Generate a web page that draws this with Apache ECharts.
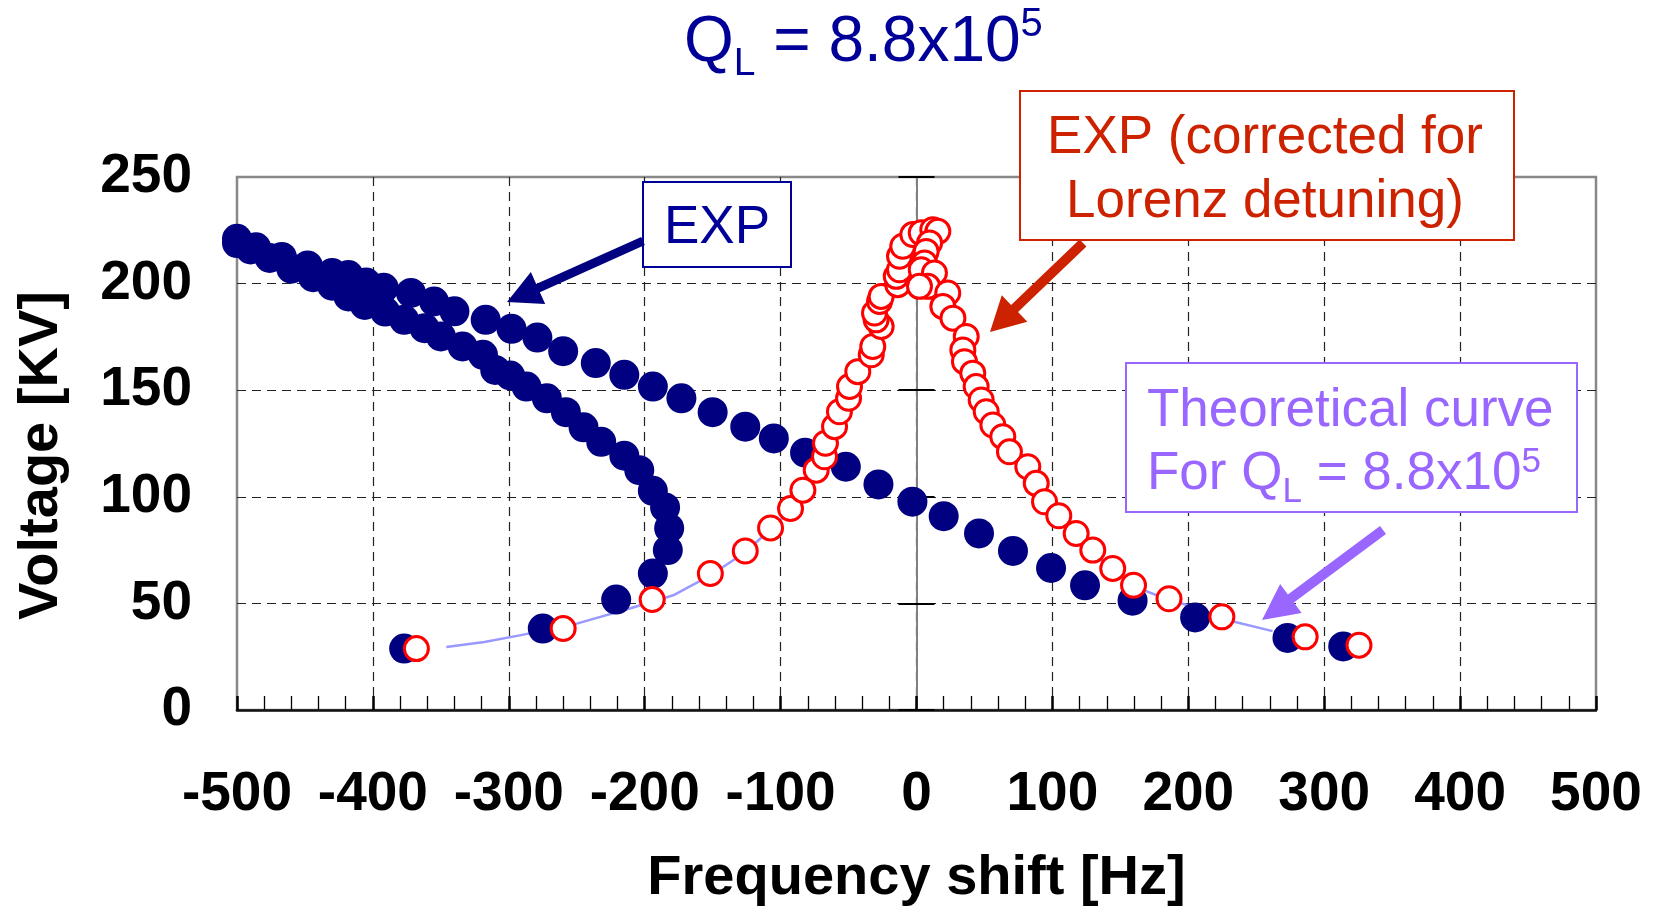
<!DOCTYPE html>
<html><head><meta charset="utf-8">
<script src="https://cdn.jsdelivr.net/npm/echarts@6/dist/echarts.min.js"></script>
<style>html,body{margin:0;padding:0;background:#fff}#c{width:1655px;height:912px}</style>
</head><body><div id="c"></div>
<script>
// ---- data (frequency shift [Hz], voltage [kV]) ----
const expUpperBranch = [
  [-500,221],[-486,217],[-467,212.5],[-448,208.5],[-430,205],[-418,204],[-405,200.5],[-392,198],
  [-372,195.6],[-355,191.6],[-340,187],[-317,183],[-298,178.8],[-279,174.7],[-260,168.3],[-236,162.7],
  [-215,157.2],[-194,151.7],[-173,146.2],[-150,139.7],[-126,132.9],[-105,127.4],[-82,120.7],[-52,114.1],
  [-28,105.8],[-3,97.7],[20,90.9],[46,82.8],[71,74.6],[99,66.6],[124,58.5],[159,51.3],[205,43.4],
  [273,33.8],[314,29.8]
];
const expLowerBranch = [
  [-500,219],[-490,216],[-476,212],[-460,207],[-444,203],[-430,199],[-418,194],[-406,190],
  [-391,186.9],[-377,183],[-362,179.1],[-350,175.2],[-334,170.5],[-319,166.6],[-310,159.5],[-299,156.9],
  [-287,151.7],[-272,146.2],[-258,139.7],[-245,132.6],[-232,125.8],[-215,119.3],[-204,112.5],[-194,102.8],
  [-185,95],[-182,85.3],[-183,75],[-194,64],[-221,51.8],[-275,38.2],[-377,28.8]
];
const expCorrected = [
  [-368,28.8],[-260,38.2],[-194.5,51.8],[-151.7,64],[-126,74.6],[-107.4,85.4],[-92.7,94.5],[-83.6,103.1],
  [-73.8,112.5],[-67.7,118.8],[-67,125.1],[-60.3,132.9],[-56.7,139.9],[-50,146.2],[-49.3,151.7],[-43.2,158.7],
  [-33.3,166.6],[-32.2,170.5],[-26,179.9],[-29.7,183],[-30.9,186.2],[-27.2,191.6],[-26,194],[-13.8,199.5],
  [-14.9,203.4],[-12.5,206.5],[-12.5,212.8],[-10.1,217.5],[-2.7,223],[3.5,223.8],[12,225.3],[15.7,224.5],
  [9.6,219.1],[7.1,215.1],[5.9,209.7],[3.5,206.5],[13.2,205],[8.3,198.7],[2.2,198.7],[23,195.6],
  [19.4,189.3],[26.8,183.8],[36.6,175.2],[34.1,168.9],[35.3,163.4],[41.4,158],[43.9,151.7],[47.6,145.4],
  [51.3,139.9],[56.2,133.7],[63.5,128.2],[68.4,121.1],[81.9,114.1],[88.1,106.3],[94.2,97.7],[104.7,91.1],
  [117.5,82.8],[129.7,75],[144.4,66.4],[159.7,58.5],[185.8,52.2],[224.7,43.7],[286,34.3],[325.6,30.4]
];
const theoryCurve = [
  [-346,29.5],[-318,31.9],[-292,35],[-250,40.5],[-211,47.6],[-179,53.8],[-152,63],[-126,74],[-107,85],
  [-92,94],[-80,104],[-70,115],[-60,130],[-50,147],[-40,163],[-30,180],[-20,200],[-10,216],[0,223],
  [10,216],[20,200],[30,180],[40,160],[50,143],[60,128],[75,115],[90,102],[105,90],[120,80],[140,68],
  [160,58],[180,53],[200,49],[230,42],[262,37]
];
const xRange = [-500, 500];
const yRange = [0, 250];
const titleParts = [['Q',64,0],['L',39,14],[' = 8.8x10',64,0],['5',40,-25]];
const expLabel = 'EXP';
const correctedLabel = ['EXP (corrected for', 'Lorenz detuning)'];
const theoryLine1 = 'Theoretical curve';
const theoryParts = [['For Q',53,0],['L',35,13.4],[' = 8.8x10',53,0],['5',35,-17]];

// ---- rendering ----
const FONT = '"Liberation Sans", Arial, Helvetica, sans-serif';
const NAVY = '#000099', RED_T = '#CC2200', PURPLE = '#9966FF';
const K = 0.28;
const mctx = document.createElement('canvas').getContext('2d');
function tw(text, size, weight) { mctx.font = (weight || 'normal') + ' ' + size + 'px ' + FONT; return mctx.measureText(text).width; }
function txt(text, x, baseline, size, color, align, weight) {
  return { type: 'text', z: 101, style: { text: text, x: x, y: baseline - K * size,
    font: (weight || 'normal') + ' ' + size + 'px ' + FONT, fill: color,
    textAlign: align || 'left', textVerticalAlign: 'middle', verticalAlign: 'middle' } };
}
function row(parts, x, baseline, color) {
  let cx = x; const out = [];
  parts.forEach(p => { out.push(txt(p[0], cx, baseline + p[2], p[1], color, 'left')); cx += tw(p[0], p[1]); });
  return out;
}
function arrow(tail, tip, shaft, headLen, headW, color) {
  const dx = tip[0] - tail[0], dy = tip[1] - tail[1];
  const L = Math.hypot(dx, dy), ux = dx / L, uy = dy / L, px = -uy, py = ux;
  const bx = tip[0] - ux * headLen, by = tip[1] - uy * headLen;
  const pts = [
    [tail[0] + px * shaft / 2, tail[1] + py * shaft / 2], [bx + px * shaft / 2, by + py * shaft / 2],
    [bx + px * headW / 2, by + py * headW / 2], tip, [bx - px * headW / 2, by - py * headW / 2],
    [bx - px * shaft / 2, by - py * shaft / 2], [tail[0] - px * shaft / 2, tail[1] - py * shaft / 2]];
  return { type: 'polygon', z: 100, shape: { points: pts }, style: { fill: color } };
}
function box(x, y, w, h, color) {
  return { type: 'rect', z: 100, shape: { x: x, y: y, width: w, height: h }, style: { fill: '#fff', stroke: color, lineWidth: 2 } };
}

const graphics = [].concat(
  row(titleParts, 684, 61, NAVY),
  [box(643, 182, 148, 85, NAVY), txt(expLabel, 717, 243, 53, NAVY, 'center'),
   arrow([643, 241], [507, 302], 9, 34, 35, '#000080')],
  [box(1020, 91, 494, 149, RED_T), txt(correctedLabel[0], 1265, 153, 53, RED_T, 'center'),
   txt(correctedLabel[1], 1265, 217, 53, RED_T, 'center'),
   arrow([1083, 243], [990, 332], 10, 34, 37, RED_T)],
  [box(1126, 363, 451, 149, PURPLE), txt(theoryLine1, 1147, 426, 53, PURPLE, 'left')],
  row(theoryParts, 1147, 489, PURPLE),
  [arrow([1383, 530], [1262, 620], 10, 36, 36, PURPLE)]
);

const chart = echarts.init(document.getElementById('c'), null, { renderer: 'canvas' });
const dashed = { show: true, showMinLine: false, showMaxLine: false, lineStyle: { color: '#222', width: 1.2, type: [9, 6] } };
const hid = { show: false };
chart.setOption({
  animation: false,
  backgroundColor: '#fff',
  textStyle: { fontFamily: FONT },
  grid: { left: 237, right: 59, top: 177, bottom: 202, show: true, borderColor: '#888', borderWidth: 2.5, backgroundColor: 'transparent' },
  xAxis: {
    type: 'value', min: xRange[0], max: xRange[1], interval: 100,
    name: 'Frequency shift [Hz]', nameLocation: 'middle', nameGap: 141,
    nameTextStyle: { fontSize: 56, fontWeight: 'bold', color: '#000', fontFamily: FONT },
    axisLine: { show: true, onZero: false, lineStyle: { color: '#111', width: 2.5 } },
    axisTick: { show: true, inside: true, length: 14, lineStyle: { color: '#000', width: 2.5 } },
    minorTick: { show: true, splitNumber: 5, length: 14, lineStyle: { color: '#000', width: 1.3 } },
    axisLabel: { fontSize: 55, fontWeight: 'bold', color: '#000', margin: 57, fontFamily: FONT },
    splitLine: dashed
  },
  yAxis: [
    {
      type: 'value', min: yRange[0], max: yRange[1], interval: 50, position: 'left',
      name: 'Voltage [KV]', nameLocation: 'middle', nameGap: 167,
      nameTextStyle: { fontSize: 56, fontWeight: 'bold', color: '#000', fontFamily: FONT, padding: [0, 24, 0, 0] },
      axisLine: hid, axisTick: hid,
      axisLabel: { fontSize: 55, fontWeight: 'bold', color: '#000', margin: 45, fontFamily: FONT },
      splitLine: dashed
    },
    {
      type: 'value', min: yRange[0], max: yRange[1], interval: 50, position: 'left',
      axisLine: { show: true, onZero: true, onZeroAxisIndex: 0, lineStyle: { color: '#808080', width: 2 } },
      axisTick: { show: true, inside: true, length: 18, lineStyle: { color: '#000', width: 2 } },
      axisLabel: hid, splitLine: hid
    },
    {
      type: 'value', min: yRange[0], max: yRange[1], interval: 50, position: 'left',
      axisLine: { show: true, onZero: true, onZeroAxisIndex: 0, lineStyle: { color: '#808080', width: 2 } },
      axisTick: { show: true, inside: false, length: 18, lineStyle: { color: '#000', width: 2 } },
      axisLabel: hid, splitLine: hid
    }
  ],
  series: [
    { name: 'Theoretical', type: 'line', data: theoryCurve, showSymbol: false, z: 3,
      lineStyle: { color: '#9999FF', width: 2.5 } },
    { name: 'EXP', type: 'scatter', data: expUpperBranch.concat(expLowerBranch), symbol: 'circle', symbolSize: 30, z: 4,
      itemStyle: { color: '#000080', opacity: 1 } },
    { name: 'EXP corrected', type: 'scatter', data: expCorrected, symbol: 'circle', symbolSize: 24, z: 5,
      itemStyle: { color: '#fff', borderColor: '#FF0000', borderWidth: 3, opacity: 1 } }
  ],
  graphic: { elements: graphics }
});
</script></body></html>
